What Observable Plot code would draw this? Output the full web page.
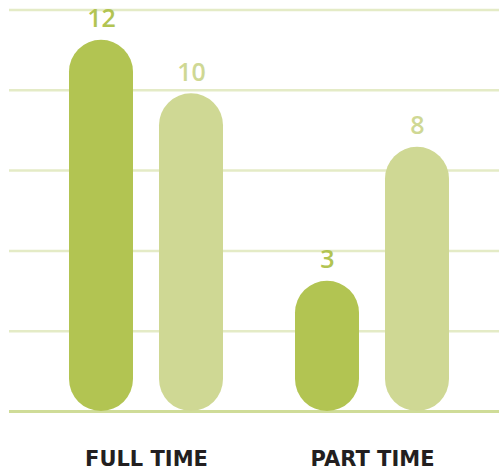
<!DOCTYPE html>
<html>
<head>
<meta charset="utf-8">
<script src="https://cdn.jsdelivr.net/npm/d3@7"></script>
<script src="https://cdn.jsdelivr.net/npm/@observablehq/plot@0.6"></script>
<style>
  html, body { margin: 0; padding: 0; background: #ffffff; }
</style>
</head>
<body>
<div id="chart"></div>
<script>
const categories = ["FULL TIME", "PART TIME"];
const seriesDark = [12, 3];
const seriesLight = [10, 8];
const gridTicks = [3, 6, 9, 12, 15];
const baselineTick = [0];

const darkColor = "#b2c452";
const lightColor = "#cfd894";

const darkData = categories.map((c, i) => ({group: c, value: seriesDark[i]}));
const lightData = categories.map((c, i) => ({group: c, value: seriesLight[i]}));

const chart = Plot.plot({
  width: 499,
  height: 470,
  marginLeft: 9,
  marginRight: 0,
  marginTop: 9.5,
  marginBottom: 59,
  style: {
    fontFamily: "DejaVu Sans",
    fontSize: "21px",
    fontWeight: "bold",
    color: "#231f20",
    background: "#ffffff"
  },
  x: {
    domain: categories,
    paddingInner: 0,
    paddingOuter: 0.084,
    align: 0.63,
    tickSize: 0,
    tickPadding: 40,
    label: null
  },
  y: {
    domain: [0, 15],
    axis: null
  },
  marks: [
    Plot.ruleY(gridTicks, {stroke: "#e4ebc6", strokeWidth: 2.5}),
    Plot.ruleY(baselineTick, {stroke: "#cfdc98", strokeWidth: 3}),
    Plot.barY(darkData, {
      x: "group", y: "value", fill: darkColor,
      insetLeft: 36, insetRight: 126, insetTop: -50, rx: 32, ry: 32
    }),
    Plot.barY(lightData, {
      x: "group", y: "value", fill: lightColor,
      insetLeft: 126, insetRight: 36, insetTop: -50, rx: 32, ry: 32
    }),
    Plot.text(darkData, {
      x: "group", y: "value", text: d => String(d.value),
      dx: -45, dy: -71, fill: darkColor,
      fontSize: 25, fontWeight: 600, fontFamily: "Open Sans"
    }),
    Plot.text(lightData, {
      x: "group", y: "value", text: d => String(d.value),
      dx: 45, dy: -71, fill: lightColor,
      fontSize: 25, fontWeight: 600, fontFamily: "Open Sans"
    })
  ]
});

document.getElementById("chart").appendChild(chart);
</script>
</body>
</html>
